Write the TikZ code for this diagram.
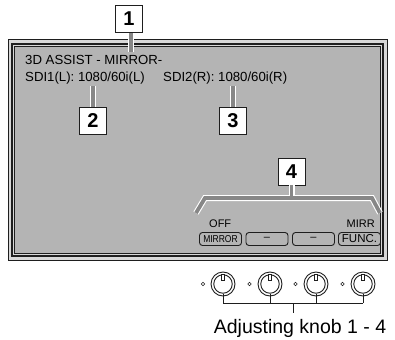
\documentclass[tikz,border=0pt]{standalone}
\usepackage{fontspec}
\setmainfont{Liberation Sans}
\definecolor{scr}{RGB}{180,180,180}
\definecolor{band}{RGB}{215,215,215}
\definecolor{dk}{RGB}{30,30,30}
\definecolor{stemgray}{RGB}{135,135,135}
\tikzset{
  numbox/.style={draw=dk,line width=0.9pt,fill=white,minimum width=27pt,minimum height=27pt,inner sep=0pt,font=\fontsize{20}{20}\selectfont\bfseries},
  scrtext/.style={inner sep=0pt,anchor=base west,font=\fontsize{13.2}{13.2}\selectfont},
  smalltext/.style={inner sep=0pt,font=\fontsize{11}{11}\selectfont},
  btn/.style={draw=dk,line width=0.9pt,rounded corners=3pt,fill=scr,minimum width=42pt,minimum height=13pt,inner sep=0pt},
  stemw/.style={white,line width=6pt},
  stemg/.style={stemgray,line width=3.8pt},
  knobline/.style={dk,line width=0.8pt}
}
\begin{document}
\begin{tikzpicture}[x=1pt,y=-1pt]
\useasboundingbox (0,0) rectangle (395,339);
% frame
\draw[dk,line width=1pt,fill=band] (8,40) rectangle (387,260);
\draw[dk,line width=1.6pt] (12,44) rectangle (383,256);
\draw[dk,line width=0.8pt,fill=scr] (14.8,46.8) rectangle (380.2,253.2);
% texts
\node[scrtext] (t1) at (25,65) {3D ASSIST - MIRROR-};
\node[scrtext] (t2) at (25,82) {SDI1(L): 1080/60i(L)};
\node[scrtext] (t3) at (163,82) {SDI2(R): 1080/60i(R)};
% number boxes
\node[numbox] (n1) at (129,19) {1};
\node[numbox] (n2) at (93,121) {2};
\node[numbox] (n3) at (233,121) {3};
\node[numbox] (n4) at (291.5,171.5) {4};
% stems
\coordinate (s1) at (131,52);
\coordinate (s2) at (93,86);
\coordinate (s3) at (233,86);
\draw[stemw] (n1.south -| s1) -- (s1);
\draw[stemg] (n1.south -| s1) -- (s1);
\draw[stemw] (s2) -- (n2.north);
\draw[stemg] (s2) -- (n2.north);
\draw[stemw] (s3) -- (n3.north);
\draw[stemg] (s3) -- (n3.north);
% bracket
\coordinate (bl) at (196,213);
\coordinate (bl2) at (205,198);
\coordinate (br2) at (372,198);
\coordinate (br) at (380,213);
\coordinate (bm) at (291.5,198);
\draw[stemw,line join=miter] (bl) -- (bl2) -- (br2) -- (br);
\draw[stemw] (bm) -- (n4.south);
\draw[stemg,line join=miter] (bl) -- (bl2) -- (br2) -- (br);
\draw[stemg] (bm) -- (n4.south);
% button labels
\node[smalltext,anchor=base west] (off) at (209,227) {OFF};
\node[smalltext,anchor=base east] (mirr) at (375,227) {MIRR};
% buttons
\node[btn,font=\fontsize{10}{10}\selectfont] (b1) at (220.5,239) {\addfontfeature{FakeStretch=0.85}MIRROR};
\node[btn] (b2) at (267,239) {\fontsize{11}{11}\selectfont --};
\node[btn] (b3) at (313.5,239) {\fontsize{11}{11}\selectfont --};
\node[btn,font=\fontsize{11.5}{11.5}\selectfont] (b4) at (359.5,239) {FUNC.};
% knobs
\foreach \i/\kx/\dx in {1/223/203,2/270/249.5,3/316/295.5,4/363/342.5}{
  \node[circle,draw=dk,line width=0.5pt,minimum size=3.5pt,inner sep=0pt] (d\i) at (\dx,284) {};
  \node[circle,draw=dk,line width=0.9pt,minimum size=24pt,inner sep=0pt] (ko\i) at (\kx,284) {};
  \node[circle,draw=dk,line width=0.9pt,minimum size=18.5pt,inner sep=0pt] (k\i) at (\kx,284) {};
  \node[draw=dk,line width=0.6pt,fill=white,minimum width=2.5pt,minimum height=6pt,inner sep=0pt,anchor=north] (m\i) at (k\i.north) {};
  \coordinate (kb\i) at (\kx,303);
  \draw[knobline] (k\i.south) -- (kb\i);
}
\draw[knobline] (kb1) -- (kb4);
\coordinate (kc) at (293,303);
\node[inner sep=0pt,anchor=base,font=\fontsize{19.5}{19.5}\selectfont] (lab) at (300,333) {Adjusting knob 1 - 4};
\coordinate (kd) at (293,313);
\draw[knobline] (kc) -- (kd);
\end{tikzpicture}
\end{document}
